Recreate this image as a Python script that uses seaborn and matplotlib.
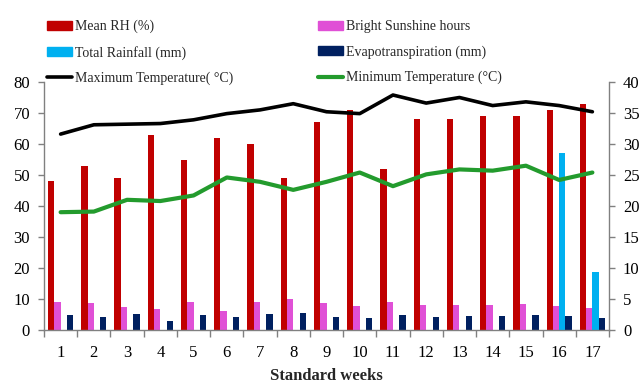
import numpy as np
import pandas as pd
import matplotlib
matplotlib.use("Agg")
import matplotlib.pyplot as plt
from matplotlib.lines import Line2D
from matplotlib.patches import Patch
import seaborn as sns

# Weekly weather observations
weeks = [str(w) for w in range(1, 18)]
mean_rh = [48, 53, 49, 63, 55, 62, 60, 49, 67, 71, 52, 68, 68, 69, 69, 71, 73]
sunshine = [9.1, 8.8, 7.4, 6.7, 9.1, 6.1, 9.1, 10.0, 8.6, 7.7, 9.1, 8.0, 8.0, 8.0, 8.3, 7.7, 7.1]
rainfall = [0, 0, 0, 0, 0, 0, 0, 0, 0, 0, 0, 0, 0, 0, 0, 57.2, 18.7]
evapo = [4.8, 4.3, 5.2, 2.9, 4.8, 4.3, 5.2, 5.5, 4.3, 3.8, 4.8, 4.3, 4.6, 4.6, 4.8, 4.6, 3.9]
max_temp = [31.6, 33.1, 33.2, 33.3, 33.9, 34.9, 35.5, 36.5, 35.2, 34.9, 37.9, 36.6, 37.5, 36.2, 36.8, 36.2, 35.2]
min_temp = [19.0, 19.1, 21.0, 20.8, 21.7, 24.6, 23.9, 22.6, 23.9, 25.4, 23.2, 25.1, 25.9, 25.7, 26.5, 24.2, 25.4]

bar_names = ["Mean RH (%)", "Bright Sunshine hours", "Total Rainfall (mm)", "Evapotranspiration (mm)"]
bar_colors = ["#C00000", "#E050D6", "#00B0F0", "#002060"]
max_label = "Maximum Temperature( \u00b0C)"
min_label = "Minimum Temperature (\u00b0C)"

bars = pd.DataFrame({
    "week": weeks * 4,
    "value": mean_rh + sunshine + rainfall + evapo,
    "series": np.repeat(bar_names, len(weeks)),
})

sns.set_theme(style="white")
plt.rcParams["font.family"] = ["Liberation Serif", "DejaVu Serif"]

fig = plt.figure(figsize=(6.41, 3.85), dpi=100)
ax = fig.add_axes([44 / 641, 1 - 330 / 385, (609 - 44) / 641, (330 - 82) / 385])

sns.barplot(data=bars, x="week", y="value", hue="series", hue_order=bar_names,
            palette=bar_colors, width=0.76, dodge=True, ax=ax,
            saturation=1, legend=False, linewidth=0, errorbar=None)

ax2 = ax.twinx()
x_pos = np.arange(len(weeks))
sns.lineplot(x=x_pos, y=max_temp, ax=ax2, color="black", linewidth=2.6)
sns.lineplot(x=x_pos, y=min_temp, ax=ax2, color="#239B2D", linewidth=3.0)

ax.set_xlim(-0.5, len(weeks) - 0.5)
ax.set_ylim(0, 80)
ax2.set_ylim(0, 40)
ax.set_yticks(np.arange(0, 81, 10))
ax2.set_yticks(np.arange(0, 41, 5))

# category boundaries carry tick marks, labels sit at the centres
ax.set_xticks(np.arange(-0.5, len(weeks), 1))
ax.set_xticklabels([])
ax.set_xticks(x_pos, minor=True)
ax.set_xticklabels(weeks, minor=True)
ax.tick_params(axis="x", which="major", length=5, width=1, color="#808080", direction="out", bottom=True)
ax.tick_params(axis="x", which="minor", length=0, pad=11, labelsize=12, colors="black")
ax.tick_params(axis="y", length=4, width=1, color="#808080", direction="out", left=True,
               pad=6, labelsize=12, labelcolor="black")
ax2.tick_params(axis="y", length=4, width=1, color="#808080", direction="out", right=True,
                pad=6, labelsize=12, labelcolor="black")

for a in (ax, ax2):
    a.grid(False)
    a.set_xlabel("")
    a.set_ylabel("")
    a.spines["top"].set_visible(False)
    for side in ("left", "right", "bottom"):
        a.spines[side].set_color("#808080")
        a.spines[side].set_linewidth(1)
ax.spines["right"].set_visible(False)
ax2.spines["left"].set_visible(False)
ax2.spines["bottom"].set_visible(False)
ax.set_facecolor("none")
ax2.patch.set_visible(False)

fig.text(326.5 / 641, 1 - 376 / 385, "Standard weeks", ha="center", va="center",
         fontsize=12, fontweight="bold")

handles = [
    Patch(color=bar_colors[0]), Patch(color=bar_colors[2]),
    Line2D([], [], color="black", linewidth=2.6),
    Patch(color=bar_colors[1]), Patch(color=bar_colors[3]),
    Line2D([], [], color="#239B2D", linewidth=3.0),
]
labels = [bar_names[0], bar_names[2], max_label, bar_names[1], bar_names[3], min_label]
fig.legend(handles, labels, ncol=2, loc="upper left", bbox_to_anchor=(47 / 641, 1 - 20 / 385),
           frameon=False, fontsize=10, borderpad=0, borderaxespad=0, handlelength=1.8,
           handleheight=0.6, handletextpad=0.2, labelspacing=0.87, columnspacing=6.1)

fig.savefig("out.png", dpi=100)
